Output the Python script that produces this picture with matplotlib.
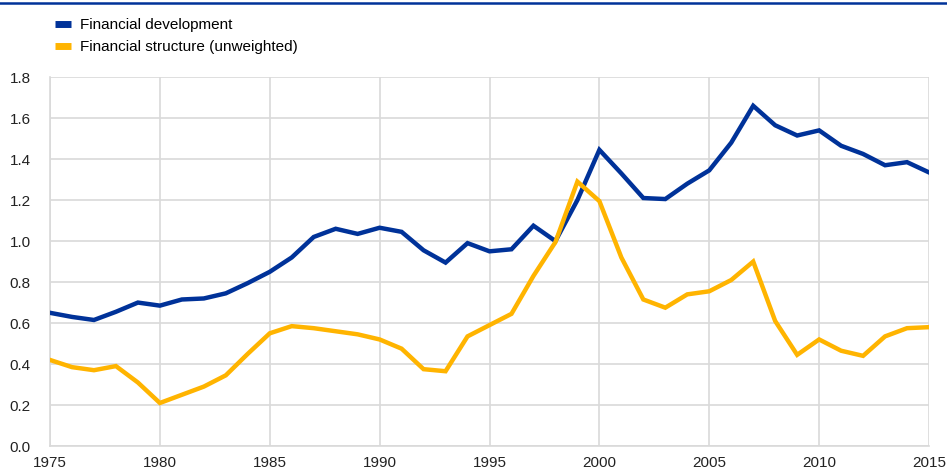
import matplotlib

matplotlib.use("Agg")
import matplotlib.pyplot as plt
from matplotlib.lines import Line2D

years = list(range(1975, 2016))
fin_development = [
    0.65, 0.63, 0.615, 0.655, 0.70, 0.685, 0.715, 0.72, 0.745, 0.795,
    0.85, 0.92, 1.02, 1.06, 1.035, 1.065, 1.045, 0.955, 0.895, 0.99,
    0.95, 0.96, 1.075, 1.0, 1.2, 1.445, 1.33, 1.21, 1.205, 1.28,
    1.345, 1.48, 1.66, 1.565, 1.515, 1.54, 1.465, 1.425, 1.37, 1.385,
    1.335,
]
fin_structure = [
    0.42, 0.385, 0.37, 0.39, 0.31, 0.21, 0.25, 0.29, 0.345, 0.45,
    0.55, 0.585, 0.575, 0.56, 0.545, 0.52, 0.475, 0.375, 0.365, 0.535,
    0.59, 0.645, 0.83, 0.995, 1.29, 1.195, 0.92, 0.715, 0.675, 0.74,
    0.755, 0.81, 0.90, 0.61, 0.445, 0.52, 0.465, 0.44, 0.535, 0.575,
    0.58,
]
series_labels = ["Financial development", "Financial structure (unweighted)"]
x_ticks = list(range(1975, 2016, 5))
y_ticks = [0.0, 0.2, 0.4, 0.6, 0.8, 1.0, 1.2, 1.4, 1.6, 1.8]

BLUE = "#003299"
YELLOW = "#FFB400"
GRID = "#d9d9d9"

plt.rcParams["font.family"] = ["Liberation Sans", "DejaVu Sans"]

fig = plt.figure(figsize=(9.47, 4.73), dpi=100)
ax = fig.add_axes([0.0528, 0.057, 0.9282, 0.780])

ax.plot(years, fin_development, color=BLUE, lw=3.2, solid_joinstyle="miter", zorder=3)
ax.plot(years, fin_structure, color=YELLOW, lw=3.2, solid_joinstyle="miter", zorder=3)

ax.set_xlim(1975, 2015)
ax.set_ylim(0, 1.8)
ax.set_xticks(x_ticks)
ax.set_yticks(y_ticks)
ax.set_yticklabels([f"{v:.1f}" for v in y_ticks])
ax.tick_params(axis="both", length=0, labelsize=11, colors="#222222")
ax.tick_params(axis="y", pad=14)
ax.tick_params(axis="x", pad=7)
ax.grid(True, color=GRID, lw=1.2)
ax.set_axisbelow(True)
for side in ["top", "right"]:
    ax.spines[side].set_visible(False)
for side in ["left", "bottom"]:
    ax.spines[side].set_color(GRID)
    ax.spines[side].set_linewidth(1.2)

# top rule
fig.add_artist(Line2D([0, 1], [0.994, 0.994], color=BLUE, lw=1.8, transform=fig.transFigure))

handles = [
    Line2D([], [], color=BLUE, lw=5, solid_capstyle="butt"),
    Line2D([], [], color=YELLOW, lw=5, solid_capstyle="butt"),
]
fig.legend(
    handles, series_labels, loc="upper left", bbox_to_anchor=(0.052, 0.975),
    frameon=False, fontsize=11, handlelength=1.0, handletextpad=0.6,
    labelspacing=0.55, borderaxespad=0,
)

fig.savefig("out.png", dpi=100)
